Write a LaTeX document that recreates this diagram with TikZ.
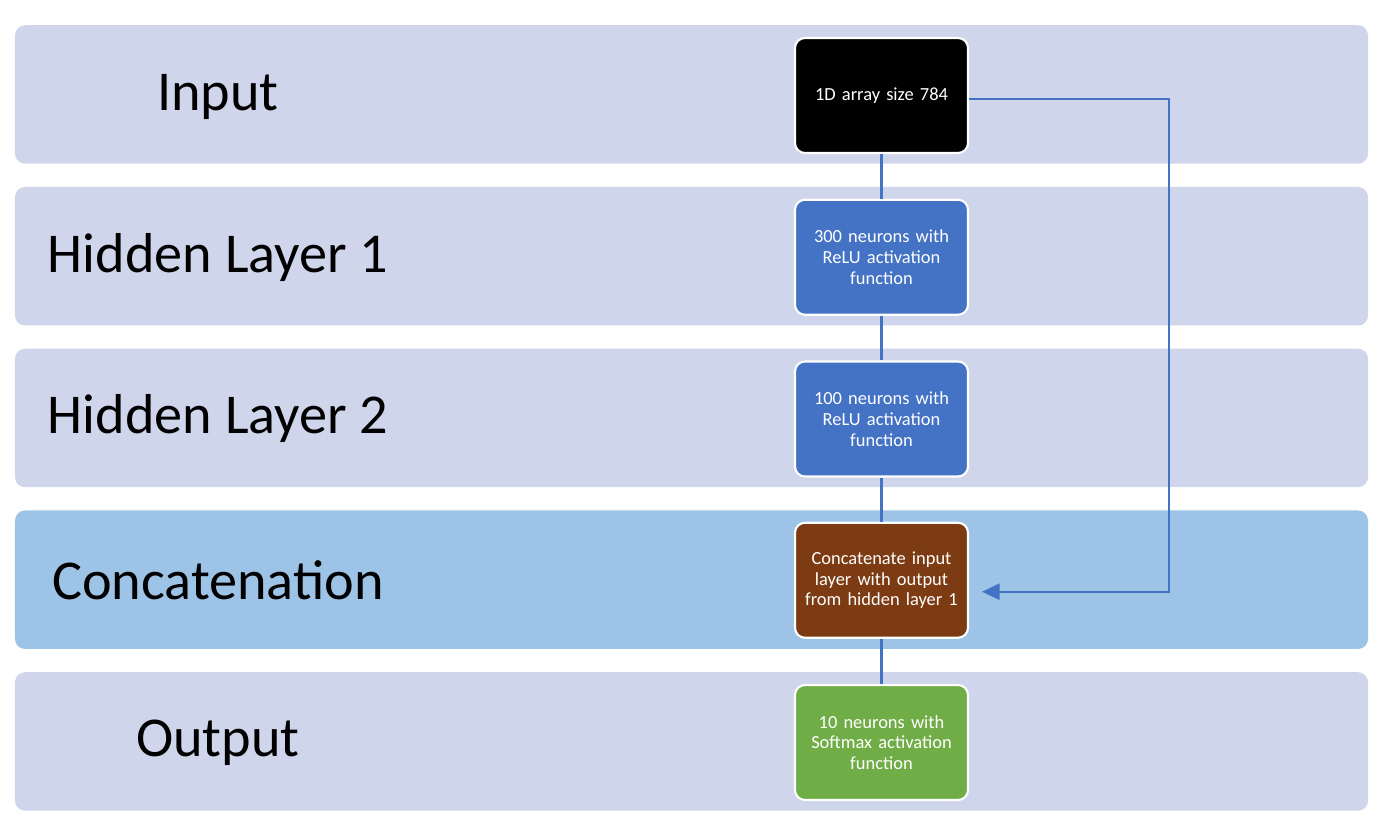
\documentclass[tikz,border=0pt]{standalone}
\usepackage{fontspec}
\setmainfont{Carlito}
\usepackage{xcolor}
\usetikzlibrary{arrows.meta,positioning}

\definecolor{bandgray}{HTML}{CFD5EA}
\definecolor{bandblue}{HTML}{9DC3E6}
\definecolor{linkblue}{HTML}{4472C4}
\definecolor{boxbrown}{HTML}{7C3B12}
\definecolor{boxgreen}{HTML}{70AD47}

\begin{document}
\begin{tikzpicture}[
  node distance=0.2325cm,
  band/.style={rectangle, fill=bandgray, rounded corners=0.1cm, minimum width=13.53cm, minimum height=1.385cm, inner sep=0pt, outer sep=0pt},
  lbl/.style={font=\fontsize{16}{19}\selectfont, text=black},
  unit/.style={rectangle, draw=white, line width=0.6pt, rounded corners=0.1cm, minimum width=1.73cm, minimum height=1.15cm, text width=1.65cm, align=center, inner sep=0pt, text=white, font=\fontsize{5.25}{5.9}\selectfont},
  link/.style={draw=linkblue, line width=0.65pt},
  arr/.style={link, -{Triangle[length=5pt,width=4.6pt]}}
]
\useasboundingbox (0,0) rectangle (14,8.4);

% layer bands
\node[band] (inp) at (6.915,7.455) {};
\node[band, below=of inp] (hid1) {};
\node[band, below=of hid1] (hid2) {};
\node[band, below=of hid2, fill=bandblue] (cat) {};
\node[band, below=of cat] (out) {};

\node[lbl] (linp)  at ([xshift=2.03cm, yshift=-0.03cm]inp.west)  {Input};
\node[lbl] (lhid1) at ([xshift=2.03cm, yshift=-0.01cm]hid1.west) {Hidden Layer 1};
\node[lbl] (lhid2) at ([xshift=2.03cm, yshift=-0.01cm]hid2.west) {Hidden Layer 2};
\node[lbl] (lcat)  at ([xshift=2.03cm, yshift=-0.01cm]cat.west)  {Concatenation};
\node[lbl] (lout)  at ([xshift=2.03cm, yshift=-0.01cm]out.west)  {Output};

% units
\node[unit, fill=black]    (uinp)  at ([xshift=8.665cm, yshift=-0.01cm]inp.west)  {1D array size 784};
\node[unit, fill=linkblue] (uhid1) at ([xshift=8.665cm, yshift=-0.01cm]hid1.west) {300 neurons with\\ReLU activation\\function};
\node[unit, fill=linkblue] (uhid2) at ([xshift=8.665cm, yshift=-0.01cm]hid2.west) {100 neurons with\\ReLU activation\\function};
\node[unit, fill=boxbrown] (ucat)  at ([xshift=8.665cm, yshift=-0.005cm]cat.west) {Concatenate input\\layer with output\\from hidden layer 1};
\node[unit, fill=boxgreen] (uout)  at ([xshift=8.665cm, yshift=-0.01cm]out.west)  {10 neurons with\\Softmax activation\\function};

\coordinate[right=0.13cm of ucat.east, yshift=-0.115cm] (skip);

\draw[link] (uinp)  -- (uhid1);
\draw[link] (uhid1) -- (uhid2);
\draw[link] (uhid2) -- (ucat);
\draw[link] (ucat)  -- (uout);
\draw[arr] ([yshift=-0.035cm]uinp.east) -- ++(2.0cm,0) |- (skip);
\end{tikzpicture}
\end{document}
